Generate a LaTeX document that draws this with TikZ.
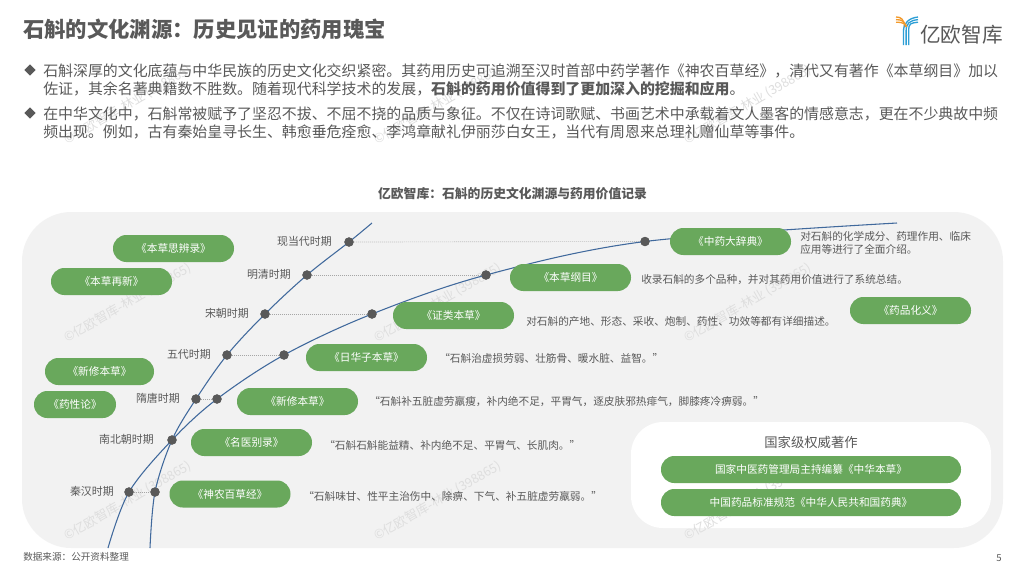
\documentclass[tikz,border=0pt]{standalone}
\usepackage{fontspec}
\setmainfont{Noto Sans CJK SC}
\usetikzlibrary{shapes.geometric}
\definecolor{txt}{HTML}{595959}
\definecolor{panel}{HTML}{F2F2F2}
\definecolor{pillc}{HTML}{69A85C}
\definecolor{curvec}{HTML}{40699C}
\definecolor{dotc}{HTML}{595959}
\definecolor{wm}{HTML}{DEDEDE}
\definecolor{logob}{HTML}{2E9FD6}
\definecolor{logoo}{HTML}{F39A2B}
\tikzset{
  pill/.style={fill=pillc,text=white,font=\fontsize{8}{10}\selectfont,minimum width=90.75pt,minimum height=20.25pt,rounded corners=10pt,inner sep=0pt},
  widepill/.style={pill,minimum width=225pt},
  bodyline/.style={anchor=west,inner sep=0pt,text=txt,font=\fontsize{11.19}{13}\selectfont},
  period/.style={anchor=east,inner sep=0pt,text=txt,font=\fontsize{8.2}{10}\selectfont},
  note/.style={anchor=west,inner sep=0pt,text=txt,font=\fontsize{8}{10}\selectfont},
  dotn/.style={circle,fill=dotc,minimum size=7pt,inner sep=0pt},
  link/.style={draw=gray!70,line width=0.5pt,densely dotted},
  era/.style={draw=curvec,line width=0.8pt},
  bullet/.style={diamond,fill=txt,minimum size=8.5pt,inner sep=0pt},
  mark text/.style={rotate=30,text=wm,inner sep=0pt,font=\fontsize{9.5}{11}\selectfont},
  logoline/.style={line width=1pt,line cap=butt}
}
\begin{document}
\begin{tikzpicture}[x=0.75pt,y=-0.75pt]
\useasboundingbox (0,0) rectangle (1024,576);
\fill[white] (0,0) rectangle (1024,576);
% panel
\fill[panel,rounded corners=37pt] (22,212) rectangle (1003,548);
\fill[white,rounded corners=24pt] (631,422) rectangle (991,528);
% watermarks
\foreach \px in {128,438,748}{\foreach \py in {105,303,501}{
  \node[mark text] at (\px,\py) {©亿欧智库-林业 (398865)};}}
% title etc.
\node[anchor=west,inner sep=0pt,text=txt,font=\fontsize{16}{18}\selectfont\bfseries] (title) at (23,29) {石斛的文化渊源：历史见证的药用瑰宝};
\node[bullet] (b1) at (30,70) {};
\node[bullet] (b2) at (30,113) {};
\node[bodyline] (l1) at (43,70.5) {石斛深厚的文化底蕴与中华民族的历史文化交织紧密。其药用历史可追溯至汉时首部中药学著作《神农百草经》，清代又有著作《本草纲目》加以};
\node[bodyline] (l2) at (43,89) {佐证，其余名著典籍数不胜数。随着现代科学技术的发展，\textbf{石斛的药用价值得到了更加深入的挖掘和应用}。};
\node[bodyline] (l3) at (43,113.5) {在中华文化中，石斛常被赋予了坚忍不拔、不屈不挠的品质与象征。不仅在诗词歌赋、书画艺术中承载着文人墨客的情感意志，更在不少典故中频};
\node[bodyline] (l4) at (43,132) {频出现。例如，古有秦始皇寻长生、韩愈垂危痊愈、李鸿章献礼伊丽莎白女王，当代有周恩来总理礼赠仙草等事件。};
\node[text=txt,inner sep=0pt,font=\fontsize{9.6}{11}\selectfont\bfseries] (ctitle) at (512.5,194) {亿欧智库：石斛的历史文化渊源与药用价值记录};
% logo
\foreach \d in {0,2.6,5.2}{
  \draw[logoline,logoo] (896,17+\d) .. controls (901+\d*.5,17+\d) and (904+\d*.5,19+\d) .. (904.5+\d*.4,27);
  \draw[logoline,logob] (903.5+\d,45) -- (903.5+\d,31) .. controls (903.5+\d,23) and (909+\d*.3,18+\d) .. (918,17+\d);
}
\node[anchor=west,inner sep=0pt,text=txt,font=\fontsize{15.5}{17}\selectfont] (brand) at (920,34.5) {亿欧智库};
% dots
\node[dotn] (a1) at (129,492) {};
\node[dotn] (s) at (172,440) {};
\node[dotn] (a3) at (217,399) {};
\node[dotn] (a4) at (284,355) {};
\node[dotn] (a5) at (372,314) {};
\node[dotn] (a6) at (486,275) {};
\node[dotn] (a7) at (645,241.5) {};
\node[dotn] (b1d) at (155,492) {};
\node[dotn] (b3) at (196,399) {};
\node[dotn] (b4) at (227,355) {};
\node[dotn] (b5) at (265,314) {};
\node[dotn] (b6) at (307,275) {};
\node[dotn] (b7) at (349,242) {};
\coordinate (a0) at (108,548);
\coordinate (a8) at (897,223);
\coordinate (b0) at (150,548);
\coordinate (b8) at (372,223);
% connectors
\draw[link] (a1) -- (b1d);
\draw[link] (b3) -- (a3);
\draw[link] (b4) -- (a4);
\draw[link] (b5) -- (a5);
\draw[link] (b6) -- (a6);
\draw[link] (b7) -- (a7);
\draw[era] plot[smooth,tension=0.55] coordinates {(a0) (a1) (s) (a3) (a4) (a5) (a6) (a7) (a8)};
\draw[era] plot[smooth,tension=0.55] coordinates {(b0) (b1d) (s) (b3) (b4) (b5) (b6) (b7) (b8)};
% redraw dots above lines
\foreach \n in {a1,s,a3,a4,a5,a6,a7,b1d,b3,b4,b5,b6,b7}{\fill[dotc] (\n) circle[radius=4.6];}
% period labels
\node[period] (p7) at (332,241) {现当代时期};
\node[period] (p6) at (291,274) {明清时期};
\node[period] (p5) at (249,313) {宋朝时期};
\node[period] (p4) at (211,354) {五代时期};
\node[period] (p3) at (180,398) {隋唐时期};
\node[period] (p2) at (154,439) {南北朝时期};
\node[period] (p1) at (114,491) {秦汉时期};
% pills
\node[pill] (k1) at (173.5,248.5) {《本草思辨录》};
\node[pill] (k2) at (111.5,281.5) {《本草再新》};
\node[pill,minimum width=81.75pt] (k3) at (99.5,371.5) {《新修本草》};
\node[pill,minimum width=61.5pt] (k4) at (75,404.5) {《药性论》};
\node[pill] (k5) at (297.5,401.5) {《新修本草》};
\node[pill] (k6) at (251.5,442.5) {《名医别录》};
\node[pill] (k7) at (230,494) {《神农百草经》};
\node[pill] (k8) at (366.5,357.5) {《日华子本草》};
\node[pill] (k9) at (453.5,315.5) {《证类本草》};
\node[pill] (k10) at (570.5,277.5) {《本草纲目》};
\node[pill] (k11) at (730.5,241.5) {《中药大辞典》};
\node[pill] (k12) at (910.5,310.5) {《药品化义》};
\node[text=txt,inner sep=0pt,font=\fontsize{10}{12}\selectfont] (nt) at (811,442) {国家级权威著作};
\node[widepill] (n1) at (811,469.5) {国家中医药管理局主持编纂《中华本草》};
\node[widepill] (n2) at (811,502.5) {中国药品标准规范《中华人民共和国药典》};
% notes
\node[note] (d1) at (800,236) {对石斛的化学成分、药理作用、临床};
\node[note] (d1b) at (800,249) {应用等进行了全面介绍。};
\node[note] (d2) at (641,280) {收录石斛的多个品种，并对其药用价值进行了系统总结。};
\node[note] (d3) at (526,321) {对石斛的产地、形态、采收、炮制、药性、功效等都有详细描述。};
\node[note] (d4) at (439,358) {“石斛治虚损劳弱、壮筋骨、暖水脏、益智。”};
\node[note] (d5) at (369,402) {“石斛补五脏虚劳羸瘦，补内绝不足，平胃气，逐皮肤邪热痱气，脚膝疼冷痹弱。”};
\node[note] (d6) at (324,445) {“石斛石斛能益精、补内绝不足、平胃气、长肌肉。”};
\node[note] (d7) at (303,496) {“石斛味甘、性平主治伤中、除痹、下气、补五脏虚劳羸弱。”};
% footer
\node[anchor=west,inner sep=0pt,text=txt,font=\fontsize{7.2}{9}\selectfont] (src) at (23,557) {数据来源：公开资料整理};
\node[inner sep=0pt,text=txt,font=\fontsize{7.2}{9}\selectfont] (pg) at (999,558) {5};
\end{tikzpicture}
\end{document}
